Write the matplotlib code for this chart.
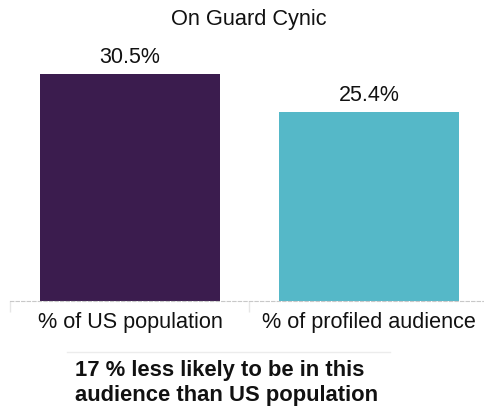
import matplotlib.pyplot as plt

plt.rcParams['font.family'] = ['Liberation Sans', 'DejaVu Sans']

categories = ['% of US population', '% of profiled audience']
values = [30.5, 25.4]
colors = ['#3b1c4e', '#55b8c8']
title = 'On Guard Cynic'
note = '17 % less likely to be in this\naudience than US population'

W, H = 484, 411
fig = plt.figure(figsize=(W / 100, H / 100), dpi=100)
ax = fig.add_axes([10 / W, (H - 301) / H, (W - 10) / W, 256 / H])

x = range(len(values))
bars = ax.bar(x, values, width=0.753, color=colors)
for b, v in zip(bars, values):
    ax.annotate(f'{v:.1f}%', (b.get_x() + b.get_width() / 2, v),
                xytext=(0, 4), textcoords='offset points',
                ha='center', va='bottom', fontsize=15.5, color='#111111')

ax.set_xlim(-0.502, 1.481)
ax.set_ylim(0, 34.4)
ax.set_yticks([])
ax.set_xticks([-0.502, 0.498], minor=True)
ax.set_xticks(list(x))
ax.set_xticklabels(categories, fontsize=15.6, color='#111111')
ax.tick_params(axis='x', which='major', length=0, pad=8)
ax.tick_params(axis='x', which='minor', length=8, color='#e6e6e6', width=1)
for s in ['top', 'right', 'left']:
    ax.spines[s].set_visible(False)
ax.spines['bottom'].set_color('#c8c8c8')
ax.spines['bottom'].set_linestyle((0, (3, 2)))
ax.spines['bottom'].set_linewidth(0.8)

fig.text(249 / W, 1 - 20 / H, title, ha='center', va='center', fontsize=15.7, color='#111111')
fig.add_artist(plt.Line2D([67 / W, 390 / W], [1 - 352 / H] * 2, color='#ececec', lw=1))
fig.text(75 / W, 1 - 383 / H, note, ha='left', va='center', fontsize=15.8,
         fontweight='bold', color='#111111', linespacing=1.22)

fig.savefig('out.png', dpi=100)
